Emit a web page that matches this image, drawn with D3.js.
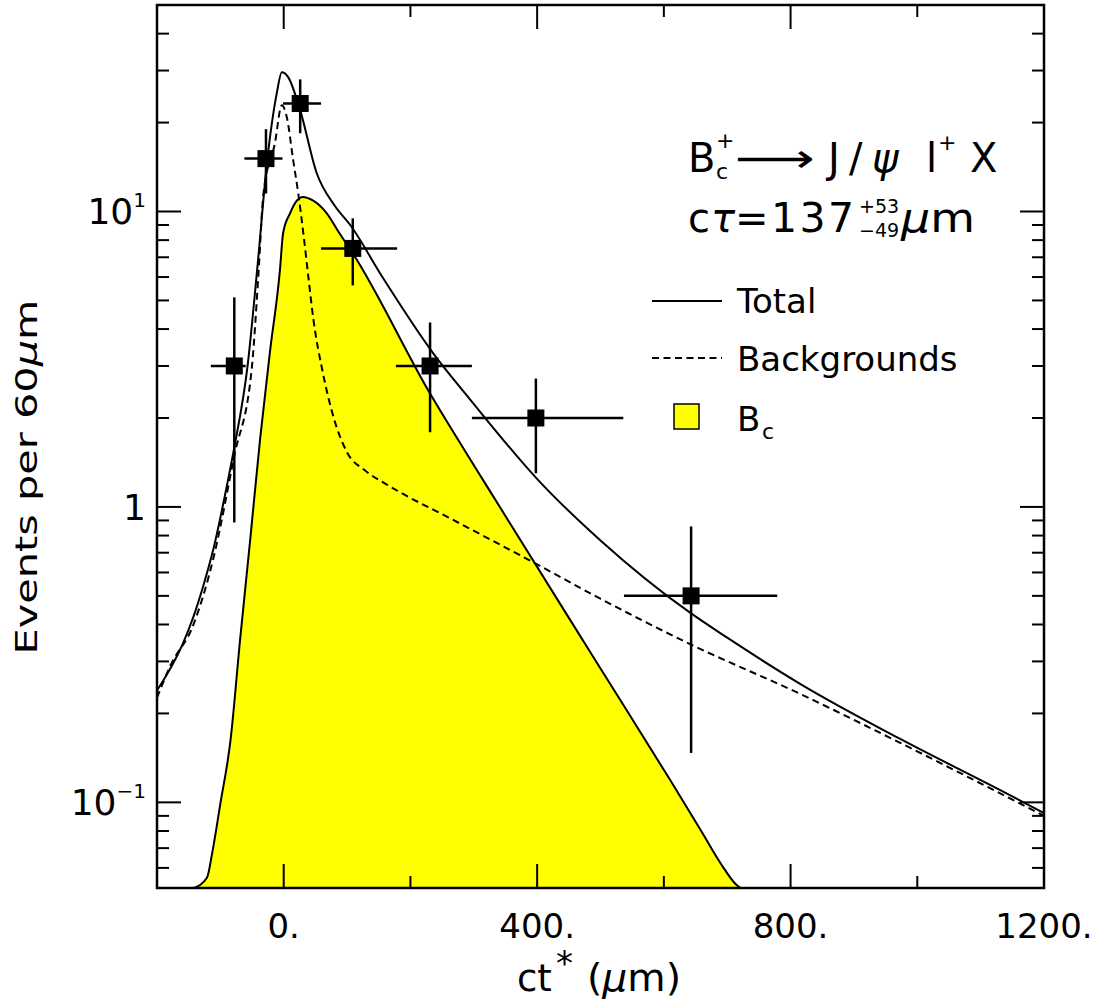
<!DOCTYPE html>
<html><head><meta charset="utf-8">
<script src="https://cdn.jsdelivr.net/npm/d3@7"></script>
<style>
body{margin:0;background:#fff;}
text{font-family:"DejaVu Sans",sans-serif;fill:#000;}
</style>
</head><body><svg id="c" width="1097" height="1004"></svg>
<script>
// ---- data points (ct*, events per 60 um) ----
const ctPoints = [-78, -28, 26, 109, 231, 398, 643];
const ctLow    = [-115, -62, -1, 59, 177, 297, 537];
const ctHigh   = [-60, -2, 59, 179, 297, 536, 779];
const events   = [3.0, 15.1, 23.2, 7.5, 3.0, 2.0, 0.5];
const errHigh  = [5.12, 19.0, 28.0, 9.48, 4.21, 2.72, 0.859];
const errLow   = [0.886, 11.5, 18.4, 5.62, 1.79, 1.30, 0.147];

// ---- Total fit curve ----
const totalX = [-200, -159, -143, -127, -111, -89, -78, -57, -42, -26, -11, -3, 7, 26, 52, 80, 105, 157, 236, 295, 402, 500, 643, 700, 815, 973, 1131, 1200];
const totalY = [0.239, 0.345, 0.422, 0.54, 0.72, 1.20, 1.59, 3.01, 6.32, 14.9, 25.1, 29.6, 28.5, 22.0, 13.5, 10.5, 9.0, 5.94, 3.31, 2.30, 1.23, 0.77, 0.436, 0.361, 0.252, 0.164, 0.110, 0.092];

// ---- Backgrounds curve ----
const bgX = [-200, -179, -143, -111, -78, -50, -40, -32, -14, -3, 5, 15, 23, 31, 39, 47, 61, 77, 100, 128, 160, 184, 263, 341, 400, 499, 643, 815, 973, 1200];
const bgY = [0.226, 0.29, 0.397, 0.67, 1.49, 3.01, 6.08, 11.5, 17.0, 22.9, 20.8, 14.9, 11.5, 8.44, 5.98, 4.29, 2.90, 2.07, 1.53, 1.33, 1.20, 1.12, 0.914, 0.746, 0.639, 0.49, 0.342, 0.233, 0.159, 0.090];

// ---- B_c signal curve ----
const bcX = [-142, -121, -113, -100, -84, -69, -53, -37, -22, -6, -1, 10, 21, 30, 46, 68, 88, 109, 231, 315, 500, 610, 659, 690, 714, 729];
const bcY = [0.0513, 0.0557, 0.0672, 0.099, 0.162, 0.353, 0.77, 1.72, 3.31, 6.32, 8.44, 9.86, 10.9, 11.2, 10.9, 9.86, 8.44, 7.22, 2.42, 1.23, 0.284, 0.119, 0.080, 0.062, 0.0527, 0.050];

// ---- axes ----
const xMajorTicks = [0, 400, 800, 1200];
const xTickLabels = ["0.", "400.", "800.", "1200."];
const xMinorTicks = [200, 600, 1000];
const yMajorTicks = [0.1, 1, 10];
const yTickLabels = [["10","−1"], ["1",""], ["10","1"]];

const L = 157, R = 1044, T = 5, B = 888;
const svg = d3.select("#c");
const x = d3.scaleLinear().domain([-200, 1200]).range([L, R]);
const y = d3.scaleLog().domain([0.0513, 50]).range([B, T]);

svg.append("defs").append("clipPath").attr("id","clip")
  .append("rect").attr("x",L).attr("y",T).attr("width",R-L).attr("height",B-T);
const g = svg.append("g").attr("clip-path","url(#clip)");

const bcData = bcX.map((v,i)=>[v,bcY[i]]);
const totalData = totalX.map((v,i)=>[v,totalY[i]]);
const bgData = bgX.map((v,i)=>[v,bgY[i]]);

const curve = d3.curveMonotoneX;
g.append("path").datum(bcData)
  .attr("d", d3.area().x(d=>x(d[0])).y0(B+5).y1(d=>y(d[1])).curve(curve))
  .attr("fill","#ffff00").attr("stroke","none");
g.append("path").datum(bcData)
  .attr("d", d3.line().x(d=>x(d[0])).y(d=>y(d[1])).curve(curve))
  .attr("fill","none").attr("stroke","#000").attr("stroke-width",2);
g.append("path").datum(bgData)
  .attr("d", d3.line().x(d=>x(d[0])).y(d=>y(d[1])).curve(curve))
  .attr("fill","none").attr("stroke","#000").attr("stroke-width",2).attr("stroke-dasharray","7,4.5");
g.append("path").datum(totalData)
  .attr("d", d3.line().x(d=>x(d[0])).y(d=>y(d[1])).curve(curve))
  .attr("fill","none").attr("stroke","#000").attr("stroke-width",2);

// data points
const pts = svg.append("g");
ctPoints.forEach((c,i)=>{
  pts.append("line").attr("x1",x(ctLow[i])).attr("x2",x(ctHigh[i]))
    .attr("y1",y(events[i])).attr("y2",y(events[i])).attr("stroke","#000").attr("stroke-width",2.5);
  pts.append("line").attr("x1",x(c)).attr("x2",x(c))
    .attr("y1",y(errLow[i])).attr("y2",y(errHigh[i])).attr("stroke","#000").attr("stroke-width",2.5);
  pts.append("rect").attr("x",x(c)-8.5).attr("y",y(events[i])-8.5)
    .attr("width",17).attr("height",17).attr("fill","#000");
});

// frame
svg.append("rect").attr("x",L).attr("y",T).attr("width",R-L).attr("height",B-T)
  .attr("fill","none").attr("stroke","#000").attr("stroke-width",2.5);

// ticks
const tk = svg.append("g").attr("stroke","#000").attr("stroke-width",2);
const majLen = 24, minLen = 12;
xMajorTicks.concat(xMinorTicks).forEach(v=>{
  const len = xMajorTicks.includes(v) ? majLen : minLen;
  tk.append("line").attr("x1",x(v)).attr("x2",x(v)).attr("y1",B).attr("y2",B-len);
  tk.append("line").attr("x1",x(v)).attr("x2",x(v)).attr("y1",T).attr("y2",T+len);
});
const yMinor = [];
[0.01,0.1,1,10].forEach(d=>{ for(let k=2;k<=9;k++){ const v=d*k; if(v>0.0513 && v<50) yMinor.push(v);} });
yMajorTicks.concat(yMinor).forEach(v=>{
  const len = yMajorTicks.includes(v) ? majLen : minLen;
  tk.append("line").attr("x1",L).attr("x2",L+len).attr("y1",y(v)).attr("y2",y(v));
  tk.append("line").attr("x1",R).attr("x2",R-len).attr("y1",y(v)).attr("y2",y(v));
});

// tick labels
xMajorTicks.forEach((v,i)=>{
  svg.append("text").attr("x",x(v)).attr("y",938).attr("text-anchor","middle")
    .attr("font-size",34).text(xTickLabels[i]);
});
yMajorTicks.forEach((v,i)=>{
  const [base,exp] = yTickLabels[i];
  const t = svg.append("text").attr("x",146).attr("y",y(v)+13).attr("text-anchor","end").attr("font-size",36);
  t.append("tspan").text(base);
  if(exp) t.append("tspan").attr("font-size",20).attr("dy",-17).text(exp);
});

// axis titles
svg.append("text").attr("x",517).attr("y",991).attr("font-size",37).text("ct");
svg.append("text").attr("x",556).attr("y",975).attr("font-size",34).text("*");
const xt2 = svg.append("text").attr("x",587).attr("y",991).attr("font-size",37)
  .attr("textLength",94).attr("lengthAdjust","spacingAndGlyphs");
xt2.append("tspan").text("(");
xt2.append("tspan").attr("font-style","italic").text("μ");
xt2.append("tspan").text("m)");

const yt = svg.append("text").attr("transform","translate(37,477) rotate(-90)")
  .attr("text-anchor","middle").attr("font-size",30)
  .attr("textLength",355).attr("lengthAdjust","spacingAndGlyphs");
yt.append("tspan").text("Events per 60");
yt.append("tspan").attr("font-style","italic").text("μ");
yt.append("tspan").text("m");

// title line 1: B_c^+ -> J/psi l^+ X
const t1 = svg.append("g");
t1.append("text").attr("x",688).attr("y",172).attr("font-size",40).text("B");
t1.append("text").attr("x",716).attr("y",179).attr("font-size",22).text("c");
t1.append("text").attr("x",716).attr("y",148).attr("font-size",22).text("+");
t1.append("text").attr("x",735).attr("y",172).attr("font-size",40)
  .attr("textLength",80).attr("lengthAdjust","spacingAndGlyphs").text("⟶");
t1.append("text").attr("x",828).attr("y",172).attr("font-size",40).text("J");
t1.append("text").attr("x",849).attr("y",172).attr("font-size",40).text("/");
t1.append("text").attr("x",872).attr("y",172).attr("font-size",40).attr("font-style","italic").text("ψ");
t1.append("text").attr("x",926).attr("y",172).attr("font-size",40).text("l");
t1.append("text").attr("x",938).attr("y",150).attr("font-size",22).text("+");
t1.append("text").attr("x",970).attr("y",172).attr("font-size",40).text("X");

// title line 2: c tau = 137 (+53 -49) um
const t2 = svg.append("g");
t2.append("text").attr("x",688).attr("y",232).attr("font-size",40).text("c");
t2.append("text").attr("x",711).attr("y",232).attr("font-size",40).attr("font-style","italic").text("τ");
t2.append("text").attr("x",735).attr("y",232).attr("font-size",40).text("=");
t2.append("text").attr("x",771).attr("y",232).attr("font-size",41)
  .attr("textLength",83).attr("lengthAdjust","spacing").text("137");
t2.append("text").attr("x",859).attr("y",213).attr("font-size",19).text("+53");
t2.append("text").attr("x",859).attr("y",237).attr("font-size",19).text("−49");
const um = t2.append("text").attr("x",901).attr("y",232).attr("font-size",40)
  .attr("textLength",74).attr("lengthAdjust","spacingAndGlyphs");
um.append("tspan").attr("font-style","italic").text("μ");
um.append("tspan").text("m");

// legend
const lg = svg.append("g");
lg.append("line").attr("x1",652).attr("x2",722).attr("y1",301).attr("y2",301).attr("stroke","#000").attr("stroke-width",2);
lg.append("text").attr("x",737).attr("y",313).attr("font-size",34).text("Total");
lg.append("line").attr("x1",652).attr("x2",722).attr("y1",358).attr("y2",358).attr("stroke","#000").attr("stroke-width",2).attr("stroke-dasharray","7,4.5");
lg.append("text").attr("x",737).attr("y",371).attr("font-size",34).text("Backgrounds");
lg.append("rect").attr("x",674).attr("y",404).attr("width",25).attr("height",25).attr("fill","#ffff00").attr("stroke","#000").attr("stroke-width",1.5);
lg.append("text").attr("x",737).attr("y",431).attr("font-size",34).text("B");
lg.append("text").attr("x",762).attr("y",439).attr("font-size",22).text("c");
</script>
</body></html>
